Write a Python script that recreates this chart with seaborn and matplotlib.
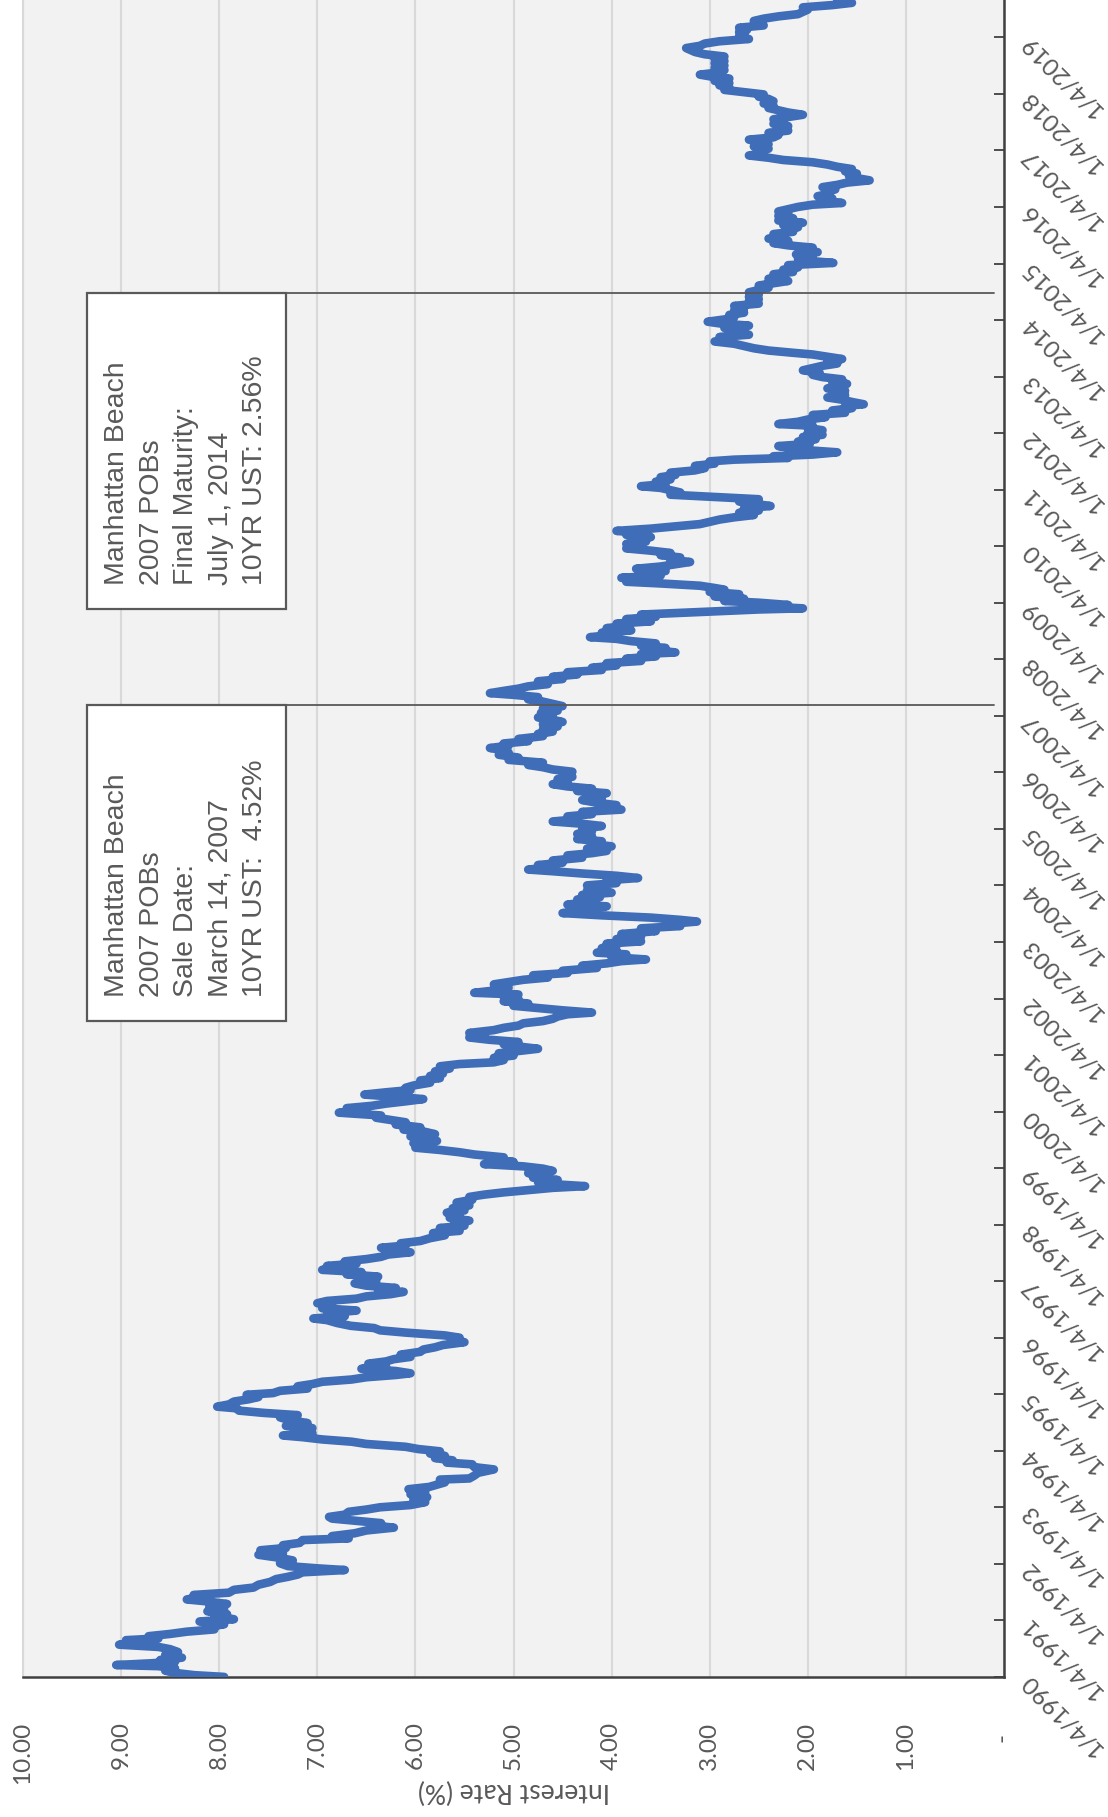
import pandas as pd
import seaborn as sns
import matplotlib.pyplot as plt

# 10-year treasury yield (decimal year, percent)
years = [
    1990.01, 1990.04, 1990.08, 1990.12, 1990.16, 1990.2, 1990.22, 1990.25, 1990.28, 1990.31,
    1990.35, 1990.4, 1990.45, 1990.5, 1990.54, 1990.58, 1990.62, 1990.66, 1990.69, 1990.73,
    1990.77, 1990.81, 1990.85, 1990.9, 1990.94, 1990.99, 1991.03, 1991.08, 1991.12, 1991.17,
    1991.21, 1991.26, 1991.3, 1991.35, 1991.38, 1991.42, 1991.46, 1991.5, 1991.55, 1991.59,
    1991.64, 1991.69, 1991.74, 1991.78, 1991.82, 1991.86, 1991.9, 1991.93, 1991.97, 1992.02,
    1992.07, 1992.12, 1992.17, 1992.2, 1992.25, 1992.29, 1992.34, 1992.38, 1992.43, 1992.46,
    1992.5, 1992.55, 1992.6, 1992.65, 1992.69, 1992.73, 1992.77, 1992.81, 1992.84, 1992.88,
    1992.93, 1992.97, 1993.01, 1993.05, 1993.1, 1993.14, 1993.19, 1993.24, 1993.28, 1993.33,
    1993.37, 1993.41, 1993.45, 1993.5, 1993.52, 1993.57, 1993.62, 1993.68, 1993.72, 1993.77,
    1993.8, 1993.84, 1993.88, 1993.92, 1993.96, 1994.0, 1994.04, 1994.08, 1994.13, 1994.17,
    1994.21, 1994.25, 1994.28, 1994.32, 1994.36, 1994.41, 1994.45, 1994.5, 1994.55, 1994.6,
    1994.64, 1994.68, 1994.72, 1994.76, 1994.79, 1994.83, 1994.88, 1994.92, 1994.96, 1995.0,
    1995.03, 1995.07, 1995.11, 1995.15, 1995.19, 1995.23, 1995.27, 1995.31, 1995.35, 1995.38,
    1995.42, 1995.46, 1995.5, 1995.55, 1995.59, 1995.63, 1995.67, 1995.71, 1995.76, 1995.8,
    1995.84, 1995.88, 1995.93, 1995.97, 1996.01, 1996.05, 1996.1, 1996.14, 1996.18, 1996.22,
    1996.27, 1996.32, 1996.35, 1996.39, 1996.44, 1996.49, 1996.53, 1996.58, 1996.62, 1996.66,
    1996.7, 1996.74, 1996.78, 1996.82, 1996.85, 1996.89, 1996.93, 1996.97, 1997.01, 1997.05,
    1997.09, 1997.13, 1997.17, 1997.21, 1997.24, 1997.28, 1997.32, 1997.36, 1997.4, 1997.44,
    1997.48, 1997.52, 1997.56, 1997.6, 1997.64, 1997.68, 1997.72, 1997.77, 1997.82, 1997.86,
    1997.9, 1997.95, 1997.99, 1998.04, 1998.08, 1998.13, 1998.18, 1998.22, 1998.26, 1998.3,
    1998.35, 1998.4, 1998.45, 1998.5, 1998.54, 1998.58, 1998.62, 1998.66, 1998.69, 1998.72,
    1998.76, 1998.8, 1998.84, 1998.88, 1998.92, 1998.96, 1999.0, 1999.04, 1999.08, 1999.12,
    1999.16, 1999.2, 1999.25, 1999.29, 1999.33, 1999.37, 1999.41, 1999.45, 1999.49, 1999.53,
    1999.57, 1999.61, 1999.65, 1999.69, 1999.73, 1999.78, 1999.82, 1999.86, 1999.9, 1999.94,
    1999.99, 2000.03, 2000.07, 2000.11, 2000.15, 2000.19, 2000.23, 2000.27, 2000.31, 2000.35,
    2000.39, 2000.43, 2000.47, 2000.52, 2000.56, 2000.6, 2000.64, 2000.68, 2000.72, 2000.77,
    2000.81, 2000.85, 2000.88, 2000.92, 2000.96, 2001.0, 2001.04, 2001.08, 2001.12, 2001.16,
    2001.2, 2001.24, 2001.28, 2001.32, 2001.36, 2001.4, 2001.45, 2001.49, 2001.53, 2001.57,
    2001.61, 2001.65, 2001.69, 2001.73, 2001.76, 2001.8, 2001.84, 2001.88, 2001.92, 2001.96,
    2002.0, 2002.04, 2002.08, 2002.11, 2002.15, 2002.2, 2002.26, 2002.3, 2002.34, 2002.38,
    2002.42, 2002.46, 2002.5, 2002.55, 2002.59, 2002.63, 2002.67, 2002.7, 2002.74, 2002.79,
    2002.82, 2002.86, 2002.9, 2002.94, 2002.98, 2003.02, 2003.06, 2003.11, 2003.15, 2003.2,
    2003.25, 2003.29, 2003.33, 2003.37, 2003.4, 2003.44, 2003.48, 2003.52, 2003.56, 2003.6,
    2003.64, 2003.67, 2003.72, 2003.76, 2003.8, 2003.84, 2003.88, 2003.92, 2003.97, 2004.01,
    2004.05, 2004.1, 2004.14, 2004.18, 2004.22, 2004.26, 2004.29, 2004.33, 2004.37, 2004.41,
    2004.45, 2004.5, 2004.54, 2004.58, 2004.62, 2004.66, 2004.7, 2004.74, 2004.79, 2004.83,
    2004.88, 2004.92, 2004.97, 2005.01, 2005.06, 2005.1, 2005.14, 2005.18, 2005.23, 2005.27,
    2005.31, 2005.35, 2005.39, 2005.43, 2005.47, 2005.52, 2005.56, 2005.6, 2005.64, 2005.68,
    2005.72, 2005.76, 2005.8, 2005.84, 2005.89, 2005.93, 2005.97, 2006.02, 2006.06, 2006.1,
    2006.14, 2006.18, 2006.23, 2006.27, 2006.32, 2006.36, 2006.4, 2006.44, 2006.48, 2006.52,
    2006.56, 2006.6, 2006.65, 2006.69, 2006.73, 2006.77, 2006.82, 2006.86, 2006.9, 2006.94,
    2006.98, 2007.02, 2007.06, 2007.1, 2007.14, 2007.18, 2007.22, 2007.26, 2007.3, 2007.34,
    2007.38, 2007.41, 2007.45, 2007.49, 2007.53, 2007.57, 2007.62, 2007.66, 2007.7, 2007.74,
    2007.78, 2007.82, 2007.86, 2007.9, 2007.94, 2007.98, 2008.02, 2008.06, 2008.1, 2008.13,
    2008.17, 2008.21, 2008.25, 2008.29, 2008.33, 2008.37, 2008.4, 2008.44, 2008.48, 2008.52,
    2008.56, 2008.6, 2008.64, 2008.68, 2008.72, 2008.76, 2008.8, 2008.83, 2008.86, 2008.89,
    2008.91, 2008.94, 2008.97, 2009.01, 2009.04, 2009.08, 2009.12, 2009.16, 2009.2, 2009.24,
    2009.27, 2009.31, 2009.35, 2009.38, 2009.42, 2009.45, 2009.49, 2009.53, 2009.57, 2009.61,
    2009.65, 2009.69, 2009.73, 2009.77, 2009.81, 2009.85, 2009.89, 2009.93, 2009.97, 2010.01,
    2010.05, 2010.09, 2010.13, 2010.17, 2010.21, 2010.25, 2010.28, 2010.32, 2010.36, 2010.4,
    2010.44, 2010.48, 2010.52, 2010.56, 2010.6, 2010.64, 2010.68, 2010.72, 2010.76, 2010.8,
    2010.84, 2010.88, 2010.92, 2010.96, 2011.0, 2011.04, 2011.07, 2011.11, 2011.15, 2011.19,
    2011.23, 2011.27, 2011.31, 2011.35, 2011.39, 2011.43, 2011.47, 2011.51, 2011.54, 2011.57,
    2011.6, 2011.63, 2011.67, 2011.7, 2011.74, 2011.78, 2011.82, 2011.86, 2011.9, 2011.94,
    2011.98, 2012.02, 2012.06, 2012.1, 2012.14, 2012.17, 2012.21, 2012.25, 2012.29, 2012.33,
    2012.37, 2012.41, 2012.45, 2012.49, 2012.52, 2012.56, 2012.6, 2012.64, 2012.68, 2012.72,
    2012.76, 2012.8, 2012.84, 2012.88, 2012.92, 2012.96, 2013.0, 2013.04, 2013.08, 2013.12,
    2013.16, 2013.2, 2013.24, 2013.28, 2013.32, 2013.36, 2013.4, 2013.43, 2013.47, 2013.51,
    2013.55, 2013.59, 2013.63, 2013.67, 2013.71, 2013.75, 2013.79, 2013.83, 2013.87, 2013.91,
    2013.95, 2013.98, 2014.02, 2014.06, 2014.1, 2014.14, 2014.18, 2014.22, 2014.26, 2014.3,
    2014.34, 2014.38, 2014.42, 2014.46, 2014.5, 2014.54, 2014.58, 2014.62, 2014.66, 2014.7,
    2014.74, 2014.78, 2014.82, 2014.86, 2014.9, 2014.94, 2014.98, 2015.02, 2015.05, 2015.09,
    2015.13, 2015.17, 2015.21, 2015.25, 2015.29, 2015.33, 2015.37, 2015.41, 2015.45, 2015.49,
    2015.53, 2015.57, 2015.61, 2015.65, 2015.69, 2015.73, 2015.77, 2015.81, 2015.85, 2015.89,
    2015.93, 2015.97, 2016.01, 2016.05, 2016.08, 2016.12, 2016.16, 2016.2, 2016.24, 2016.28,
    2016.32, 2016.36, 2016.4, 2016.44, 2016.48, 2016.52, 2016.56, 2016.6, 2016.64, 2016.68,
    2016.72, 2016.76, 2016.8, 2016.84, 2016.88, 2016.92, 2016.96, 2017.0, 2017.04, 2017.08,
    2017.12, 2017.16, 2017.2, 2017.24, 2017.28, 2017.32, 2017.36, 2017.4, 2017.44, 2017.48,
    2017.52, 2017.56, 2017.6, 2017.64, 2017.68, 2017.72, 2017.76, 2017.8, 2017.84, 2017.88,
    2017.92, 2017.96, 2018.0, 2018.04, 2018.08, 2018.12, 2018.16, 2018.2, 2018.24, 2018.28,
    2018.32, 2018.35, 2018.39, 2018.43, 2018.47, 2018.51, 2018.55, 2018.59, 2018.63, 2018.67,
    2018.71, 2018.75, 2018.79, 2018.82, 2018.86, 2018.9, 2018.94, 2018.98, 2019.02, 2019.06,
    2019.1, 2019.14, 2019.18, 2019.22, 2019.26, 2019.3, 2019.34, 2019.38, 2019.42, 2019.46,
    2019.5, 2019.54, 2019.58, 2019.62, 2019.65, 2019.67,
]
rates = [
    7.95, 8.25, 8.45, 8.55, 8.45, 8.62, 9.05, 8.7, 8.45, 8.6,
    8.38, 8.55, 8.42, 8.5, 8.62, 9.02, 8.85, 8.95, 8.62, 8.72,
    8.5, 8.33, 8.05, 8.1, 7.95, 8.2, 7.85, 8.05, 7.92, 8.12,
    7.95, 8.1, 7.92, 8.15, 8.33, 8.2, 8.26, 7.9, 7.85, 7.65,
    7.6, 7.48, 7.42, 7.3, 7.2, 7.15, 6.72, 7.0, 7.3, 7.38,
    7.25, 7.4, 7.6, 7.35, 7.58, 7.32, 7.35, 7.18, 7.15, 6.68,
    6.85, 6.62, 6.5, 6.22, 6.45, 6.35, 6.6, 6.85, 6.88, 6.72,
    6.68, 6.5, 6.36, 6.05, 5.9, 6.02, 5.88, 6.05, 5.9, 6.07,
    5.86, 5.78, 5.7, 5.75, 5.45, 5.4, 5.36, 5.2, 5.4, 5.42,
    5.68, 5.62, 5.8, 5.7, 5.85, 5.75, 5.97, 6.1, 6.5, 6.65,
    6.95, 7.15, 7.35, 7.05, 7.2, 7.05, 7.32, 7.1, 7.28, 7.38,
    7.2, 7.55, 7.8, 7.82, 8.02, 7.9, 7.85, 7.7, 7.6, 7.72,
    7.45, 7.38, 7.1, 7.2, 7.05, 6.95, 6.65, 6.5, 6.2, 6.05,
    6.2, 6.55, 6.3, 6.48, 6.3, 6.22, 6.05, 6.15, 5.95, 5.92,
    5.8, 5.72, 5.5, 5.62, 5.55, 5.7, 6.1, 6.36, 6.42, 6.66,
    6.8, 6.9, 7.04, 6.72, 6.9, 6.6, 6.95, 6.85, 7.0, 6.9,
    6.6, 6.5, 6.25, 6.12, 6.38, 6.2, 6.5, 6.62, 6.4, 6.55,
    6.38, 6.7, 6.55, 6.95, 6.75, 6.9, 6.6, 6.72, 6.5, 6.35,
    6.28, 6.05, 6.2, 6.35, 6.1, 6.15, 5.95, 5.85, 5.7, 5.82,
    5.55, 5.75, 5.5, 5.6, 5.45, 5.65, 5.55, 5.68, 5.5, 5.62,
    5.45, 5.58, 5.42, 5.45, 5.3, 5.1, 4.85, 4.6, 4.27, 4.55,
    4.75, 4.55, 4.8, 4.65, 4.85, 4.6, 4.7, 4.9, 5.3, 5.0,
    5.25, 5.1, 5.4, 5.55, 5.75, 6.0, 5.85, 6.02, 5.78, 5.95,
    6.05, 5.8, 5.9, 6.12, 5.95, 6.2, 6.1, 6.25, 6.4, 6.35,
    6.78, 6.5, 6.7, 6.45, 6.3, 6.1, 5.92, 6.2, 6.52, 6.3,
    6.05, 6.1, 6.02, 5.85, 5.95, 5.75, 5.85, 5.72, 5.8, 5.65,
    5.75, 5.55, 5.2, 5.1, 5.2, 5.0, 5.15, 4.95, 4.75, 4.95,
    5.1, 4.95, 5.25, 5.45, 5.3, 5.45, 5.2, 5.1, 4.95, 4.9,
    4.7, 4.6, 4.55, 4.45, 4.2, 4.5, 4.75, 5.0, 4.85, 5.1,
    4.95, 5.1, 4.95, 5.4, 5.2, 5.05, 5.2, 5.05, 4.9, 4.65,
    4.8, 4.45, 4.5, 4.15, 4.3, 4.05, 3.9, 3.65, 4.0, 3.85,
    4.15, 3.95, 4.1, 3.95, 4.05, 3.7, 3.95, 3.7, 3.9, 3.55,
    3.7, 3.3, 3.4, 3.13, 3.3, 3.6, 4.1, 4.5, 4.2, 4.4,
    4.05, 4.45, 4.2, 4.35, 4.12, 4.3, 4.0, 4.25, 4.1, 4.25,
    3.95, 4.05, 3.73, 3.95, 4.3, 4.6, 4.85, 4.6, 4.75, 4.5,
    4.6, 4.3, 4.45, 4.2, 4.05, 4.25, 4.0, 4.2, 4.1, 4.35,
    4.2, 4.35, 4.2, 4.3, 4.1, 4.3, 4.6, 4.35, 4.45, 4.2,
    4.3, 3.9, 4.1, 3.95, 4.15, 4.3, 4.1, 4.25, 4.05, 4.35,
    4.2, 4.45, 4.6, 4.45, 4.55, 4.4, 4.45, 4.4, 4.6, 4.7,
    4.85, 4.7, 5.05, 4.95, 5.15, 5.05, 5.1, 5.24, 5.05, 5.1,
    4.85, 4.95, 4.7, 4.75, 4.6, 4.7, 4.55, 4.7, 4.5, 4.6,
    4.75, 4.6, 4.72, 4.55, 4.7, 4.5, 4.6, 4.7, 4.85, 4.75,
    5.0, 5.24, 5.1, 4.95, 4.85, 4.65, 4.75, 4.5, 4.6, 4.35,
    4.45, 4.1, 4.2, 3.95, 4.05, 3.7, 3.85, 3.55, 3.7, 3.35,
    3.55, 3.45, 3.7, 3.55, 3.8, 3.95, 4.22, 4.0, 4.1, 3.8,
    4.05, 3.85, 3.95, 3.6, 3.85, 3.55, 3.7, 3.3, 2.9, 2.5,
    2.05, 2.4, 2.2, 2.5, 2.85, 2.65, 2.95, 2.7, 3.0, 2.85,
    2.95, 3.1, 3.5, 3.85, 3.6, 3.9, 3.5, 3.7, 3.45, 3.75,
    3.5, 3.35, 3.2, 3.4, 3.3, 3.5, 3.4, 3.6, 3.85, 3.7,
    3.85, 3.65, 3.75, 3.6, 3.85, 3.75, 3.95, 3.6, 3.35, 3.1,
    3.0, 2.9, 2.75, 2.55, 2.7, 2.5, 2.65, 2.38, 2.55, 2.7,
    2.5, 2.95, 3.4, 3.3, 3.4, 3.5, 3.7, 3.45, 3.55, 3.4,
    3.5, 3.35, 3.4, 3.15, 3.05, 3.15, 2.95, 3.0, 2.75, 2.2,
    2.35, 1.95, 1.7, 1.95, 2.15, 2.3, 1.98, 2.1, 1.92, 2.05,
    1.85, 2.0, 1.85, 2.0, 1.95, 2.3, 2.1, 2.0, 1.82, 1.95,
    1.62, 1.75, 1.55, 1.62, 1.43, 1.55, 1.65, 1.8, 1.62, 1.75,
    1.62, 1.8, 1.72, 1.6, 1.75, 1.65, 1.85, 1.95, 1.88, 2.05,
    1.95, 1.85, 1.7, 1.8, 1.65, 1.8, 1.95, 2.15, 2.4, 2.55,
    2.65, 2.75, 2.95, 2.8, 2.9, 2.6, 2.75, 2.65, 2.85, 2.6,
    2.9, 3.02, 2.85, 2.75, 2.8, 2.65, 2.75, 2.65, 2.75, 2.5,
    2.6, 2.5, 2.6, 2.5, 2.6, 2.5, 2.4, 2.5, 2.35, 2.2,
    2.4, 2.25, 2.35, 2.15, 2.25, 2.1, 2.2, 1.74, 1.95, 2.1,
    1.95, 2.12, 1.9, 2.05, 1.95, 2.2, 2.35, 2.2, 2.4, 2.25,
    2.35, 2.15, 2.2, 2.1, 2.25, 2.05, 2.3, 2.15, 2.3, 2.2,
    2.3, 2.2, 2.1, 1.95, 1.65, 1.85, 1.75, 1.9, 1.78, 1.8,
    1.72, 1.85, 1.7, 1.6, 1.37, 1.5, 1.58, 1.5, 1.62, 1.55,
    1.7, 1.8, 1.95, 2.25, 2.4, 2.6, 2.45, 2.5, 2.4, 2.55,
    2.4, 2.5, 2.6, 2.35, 2.3, 2.4, 2.2, 2.3, 2.2, 2.35,
    2.25, 2.35, 2.2, 2.05, 2.2, 2.3, 2.4, 2.35, 2.45, 2.35,
    2.4, 2.5, 2.45, 2.65, 2.85, 2.8, 2.9, 2.8, 2.95, 2.8,
    3.0, 3.1, 2.9, 2.85, 2.95, 2.85, 2.95, 2.85, 2.95, 2.85,
    3.05, 3.15, 3.2, 3.24, 3.1, 3.05, 2.9, 2.6, 2.7, 2.65,
    2.7, 2.62, 2.7, 2.45, 2.5, 2.55, 2.45, 2.3, 2.1, 2.05,
    2.0, 2.05, 1.75, 1.55, 1.7, 1.6,
]

# axis ticks
tick_years = list(range(1990, 2020))
date_labels = [f"1/4/{y}" for y in tick_years]
rate_ticks = [10, 9, 8, 7, 6, 5, 4, 3, 2, 1, 0]
rate_labels = ["10.00", "9.00", "8.00", "7.00", "6.00", "5.00",
               "4.00", "3.00", "2.00", "1.00", "-  "]

# callouts: event date (decimal year) and the box text
event_years = [2007.197, 2014.496]
event_texts = [
    "Manhattan Beach\n2007 POBs\nSale Date:\nMarch 14, 2007\n10YR UST:  4.52%",
    "Manhattan Beach\n2007 POBs\nFinal Maturity:\nJuly 1, 2014\n10YR UST: 2.56%",
]

LINE_BLUE = "#3F6DB7"
GREY_TXT = "#595959"


def jan4(y):
    return y + 3 / 365.25


def main():
    sns.set_style("white")
    plt.rcParams["font.family"] = ["Lato", "DejaVu Sans"]

    W, H = 1108, 1817
    fig = plt.figure(figsize=(W / 100, H / 100), dpi=100)
    # chart is drawn turned on its side: rates run right-to-left, dates bottom-to-top
    ax = fig.add_axes([23 / W, (H - 1677) / H, 981 / W, 1677 / H])
    ax.set_facecolor("#F2F2F2")

    df = pd.DataFrame({"year": years, "rate": rates})
    sns.lineplot(data=df, x="rate", y="year", sort=False, estimator=None,
                 orient="y", color=LINE_BLUE, linewidth=6.2, ax=ax,
                 solid_capstyle="round", solid_joinstyle="round", zorder=3)

    ax.set_xlim(10, 0)
    ax.set_ylim(jan4(1990), 2019.67)

    # value axis
    ax.set_xticks(rate_ticks)
    ax.set_xticklabels(rate_labels)
    ax.grid(axis="x", color="#D9D9D9", linewidth=1.5)
    ax.grid(axis="y", visible=False)
    ax.set_axisbelow(True)
    ax.tick_params(axis="x", length=0, pad=32, labelsize=17.5, labelcolor=GREY_TXT)
    plt.setp(ax.get_xticklabels(), rotation=90, rotation_mode="anchor",
             ha="right", va="center")
    ax.set_xlabel("Interest Rate (%)", fontsize=19, color=GREY_TXT,
                  rotation=180, va="center")
    ax.xaxis.set_label_coords(0.5, (1677 - 1791) / 1677)

    # date axis on the right
    ax.yaxis.tick_right()
    ax.set_yticks([jan4(y) for y in tick_years])
    ax.set_yticklabels(date_labels)
    ax.tick_params(axis="y", direction="in", length=7, width=1.3,
                   color="#404040", pad=15, labelsize=17.5, labelcolor=GREY_TXT)
    plt.setp(ax.get_yticklabels(), rotation=135, rotation_mode="anchor",
             ha="right", va="center")
    ax.set_ylabel("")

    ax.spines["top"].set_visible(False)
    ax.spines["left"].set_color("#D9D9D9")
    ax.spines["left"].set_linewidth(1.5)
    for side in ["right", "bottom"]:
        ax.spines[side].set_color("#404040")
        ax.spines[side].set_linewidth(1.8)

    # callout boxes with leader lines to the date axis
    box_left, box_right, box_len = 9.35, 7.32, 5.59
    for ev, txt in zip(event_years, event_texts):
        ax.plot([box_right, 0.1], [ev, ev], color="#595959", linewidth=1.3,
                zorder=4)
        ax.add_patch(plt.Rectangle((box_right, ev - box_len),
                                   box_left - box_right, box_len,
                                   facecolor="white", edgecolor="#595959",
                                   linewidth=1.6, zorder=5))
        ax.text(9.17, ev - 5.17, txt, rotation=90, rotation_mode="anchor",
                ha="left", va="top", multialignment="left",
                fontsize=20.5, color=GREY_TXT, linespacing=1.42,
                family=["Liberation Sans", "DejaVu Sans"], zorder=6)

    fig.savefig("out.png", dpi=100)


if __name__ == "__main__":
    main()
